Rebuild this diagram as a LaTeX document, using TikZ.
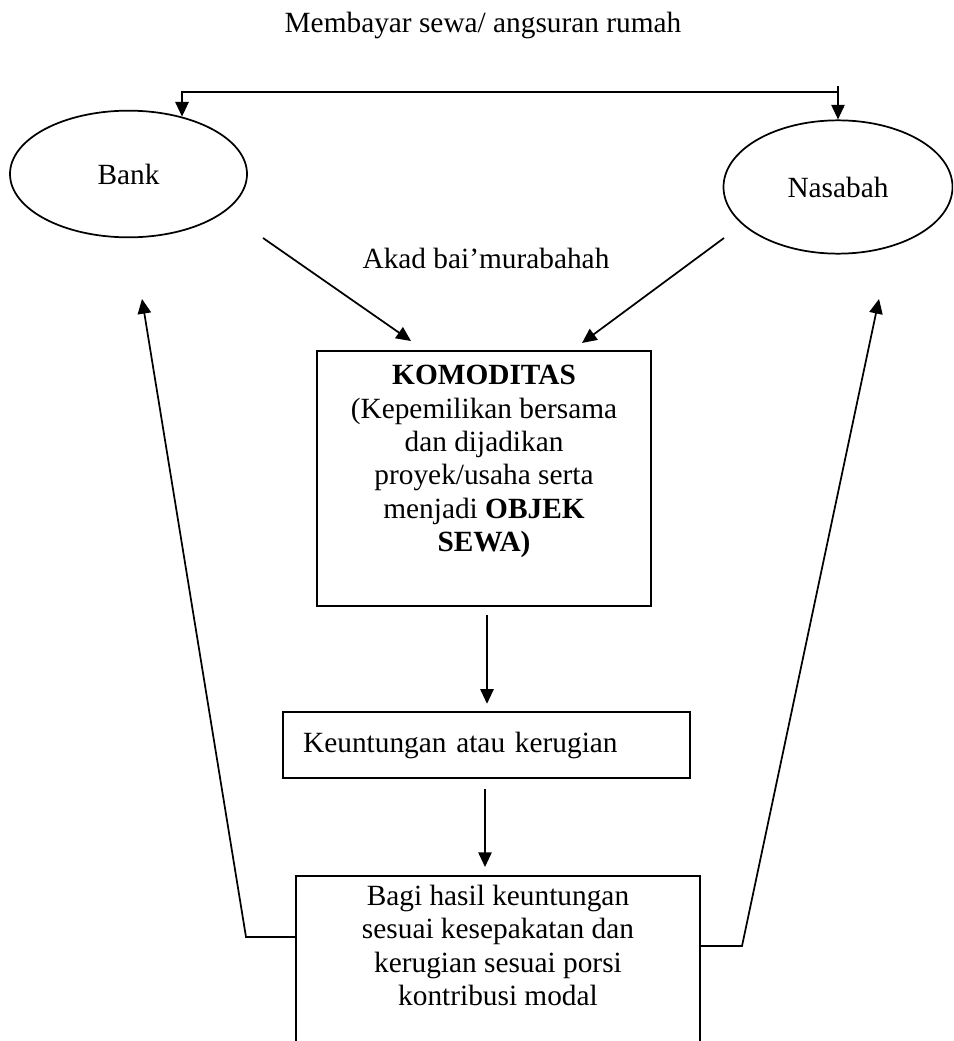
\documentclass[tikz,border=0pt]{standalone}
\usepackage{fontspec}
\setmainfont{Liberation Serif}
\usetikzlibrary{shapes.geometric,arrows.meta,calc}

\begin{document}
\begin{tikzpicture}[x=0.75pt,y=-0.75pt,line width=1.3pt,
        >={Triangle[width=10pt,length=11pt]},
        font=\fontsize{22}{25}\selectfont]

        \useasboundingbox (0,0) rectangle (953,1041);
        \clip (0,0) rectangle (953,1041);

        \node (judul) at (483,25) {Membayar sewa/ angsuran rumah};
        \node (akad) at (486,258) {Akad bai’murabahah};

        \begin{scope}[every node/.style={ellipse,draw,inner sep=0pt}]
            \node[minimum width=177.75pt,minimum height=95pt] (bank) at (128.5,174) {Bank};
            \node[minimum width=171.75pt,minimum height=100pt] (nasabah) at (838,187) {Nasabah};
        \end{scope}

        \begin{scope}[every node/.style={rectangle,draw}]
            \node[anchor=north,minimum width=250pt,inner ysep=11pt,text depth=30pt,align=center] (komoditas) at (484,350)
                {\textbf{KOMODITAS}\\(Kepemilikan bersama\\dan dijadikan\\proyek/usaha serta\\menjadi \textbf{OBJEK}\\\textbf{SEWA)}};
            \node[minimum width=305pt,minimum height=50pt,text width=275pt,inner xsep=15pt,align=left] (untung) at (486.5,745)
                {Keuntungan atau kerugian};
            \node[anchor=north,minimum width=303pt,inner ysep=7pt,text depth=70pt,align=center] (hasil) at (498,875)
                {Bagi hasil keuntungan\\sesuai kesepakatan dan\\kerugian sesuai porsi\\kontribusi modal};
        \end{scope}

        \coordinate (atas) at (838,92);
        \coordinate (ujung) at (838,86);
        \coordinate (dariBank) at (263,238);
        \coordinate (dariNasabah) at (724,238);
        \coordinate (keKom1) at (411,341);
        \coordinate (keKom2) at (582,343);
        \coordinate (kiri) at (246,937);
        \coordinate (kanan) at (742,946);
        \coordinate (panahKiri) at (142,299);
        \coordinate (panahKanan) at (879,299);

        \draw[->] (atas) -| (bank.47);
        \draw[->] (ujung) -- (nasabah.north);

        \path [->] (dariBank) edge (keKom1);
        \path [->] (dariNasabah) edge (keKom2);

        \draw [->] ($(komoditas.south -| 487,0)+(0,8)$) -- ($(untung.north -| 487,0)+(0,-7)$);
        \draw [->] ($(untung.south -| 485,0)+(0,10)$) -- ($(hasil.north -| 485,0)+(0,-8)$);

        \draw[->] (hasil.west |- kiri) -- (kiri) -- (panahKiri);
        \draw[->] (hasil.east |- kanan) -- (kanan) -- (panahKanan);

    \end{tikzpicture}
\end{document}
